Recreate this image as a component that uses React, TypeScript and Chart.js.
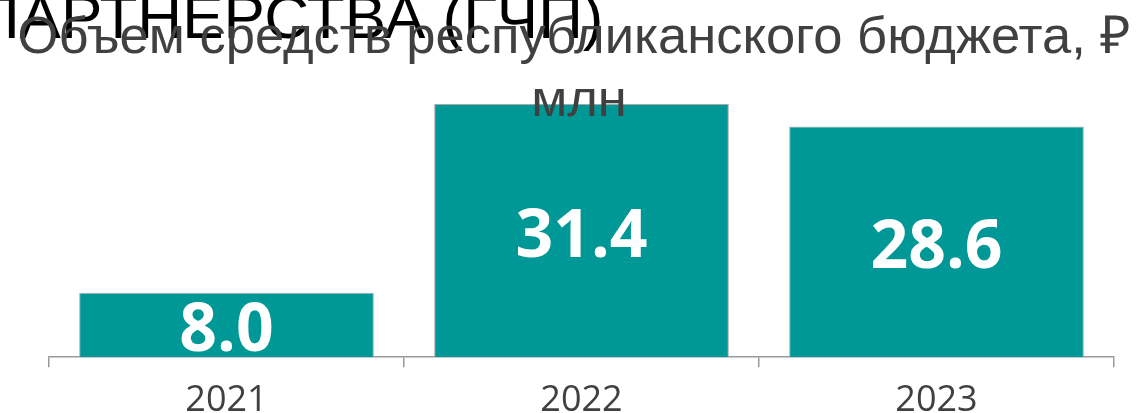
import { useEffect, useRef } from 'react';
import { Chart, registerables } from 'chart.js';

Chart.register(...registerables);

const categories = ['2021', '2022', '2023'];
const values = [8.0, 31.4, 28.6];
const headingText = 'ПАРТНЕРСТВА (ГЧП)';
const subtitleLines = ['Объем средств республиканского бюджета, ₽', 'млн'];

export default function App() {
  const ref = useRef<HTMLCanvasElement>(null);

  useEffect(() => {
    document.body.style.margin = '0';
    const canvas = ref.current;
    if (!canvas) return;

    const valueLabels = {
      id: 'valueLabels',
      afterDatasetsDraw(chart: any) {
        const ctx = chart.ctx;
        const meta = chart.getDatasetMeta(0);
        ctx.save();
        ctx.font = "bold 66px 'Open Sans'";
        ctx.fillStyle = '#ffffff';
        ctx.textAlign = 'center';
        ctx.textBaseline = 'alphabetic';
        meta.data.forEach((bar: any, i: number) => {
          const p = bar.getProps(['x', 'y', 'base'], true);
          const mid = (p.y + p.base) / 2;
          ctx.fillText(values[i].toFixed(1), p.x, mid + 26);
        });
        ctx.restore();
      },
    };

    const titles = {
      id: 'titles',
      afterDraw(chart: any) {
        const ctx = chart.ctx;
        ctx.save();
        ctx.textBaseline = 'alphabetic';
        ctx.font = "62px 'Liberation Sans'";
        ctx.fillStyle = '#000000';
        ctx.textAlign = 'left';
        ctx.fillText(headingText, -25, 38);
        ctx.font = "52.5px 'Liberation Sans'";
        ctx.fillStyle = '#404040';
        ctx.textAlign = 'center';
        ctx.fillText(subtitleLines[0], 574.5, 53);
        ctx.fillText(subtitleLines[1], 579, 116);
        ctx.restore();
      },
    };

    const chart = new Chart(canvas, {
      type: 'bar',
      data: {
        labels: categories,
        datasets: [
          {
            data: values,
            backgroundColor: '#009896',
            borderColor: '#a8a8a8',
            borderWidth: 1,
            categoryPercentage: 1,
            barPercentage: 0.83,
          },
        ],
      },
      options: {
        animation: false,
        responsive: true,
        maintainAspectRatio: false,
        layout: { padding: { left: 49, right: 23, top: 75, bottom: -21 } },
        plugins: {
          legend: { display: false },
          tooltip: { enabled: false },
          title: { display: false },
        },
        scales: {
          x: {
            grid: {
              display: true,
              drawOnChartArea: false,
              drawTicks: true,
              tickLength: 10,
              color: '#9a9a9a',
              lineWidth: 1.5,
            },
            border: { display: true, color: '#9a9a9a', width: 1.5 },
            ticks: {
              color: '#404040',
              padding: 19,
              font: { family: "'Open Sans'", size: 36, lineHeight: 0.8 },
            },
          },
          y: {
            display: false,
            min: 0,
            max: 35,
          },
        },
      },
      plugins: [valueLabels, titles],
    });

    return () => chart.destroy();
  }, []);

  return (
    <div style={{ position: 'fixed', left: 0, top: 0, width: 1137, height: 413 }}>
      <canvas ref={ref} />
    </div>
  );
}
